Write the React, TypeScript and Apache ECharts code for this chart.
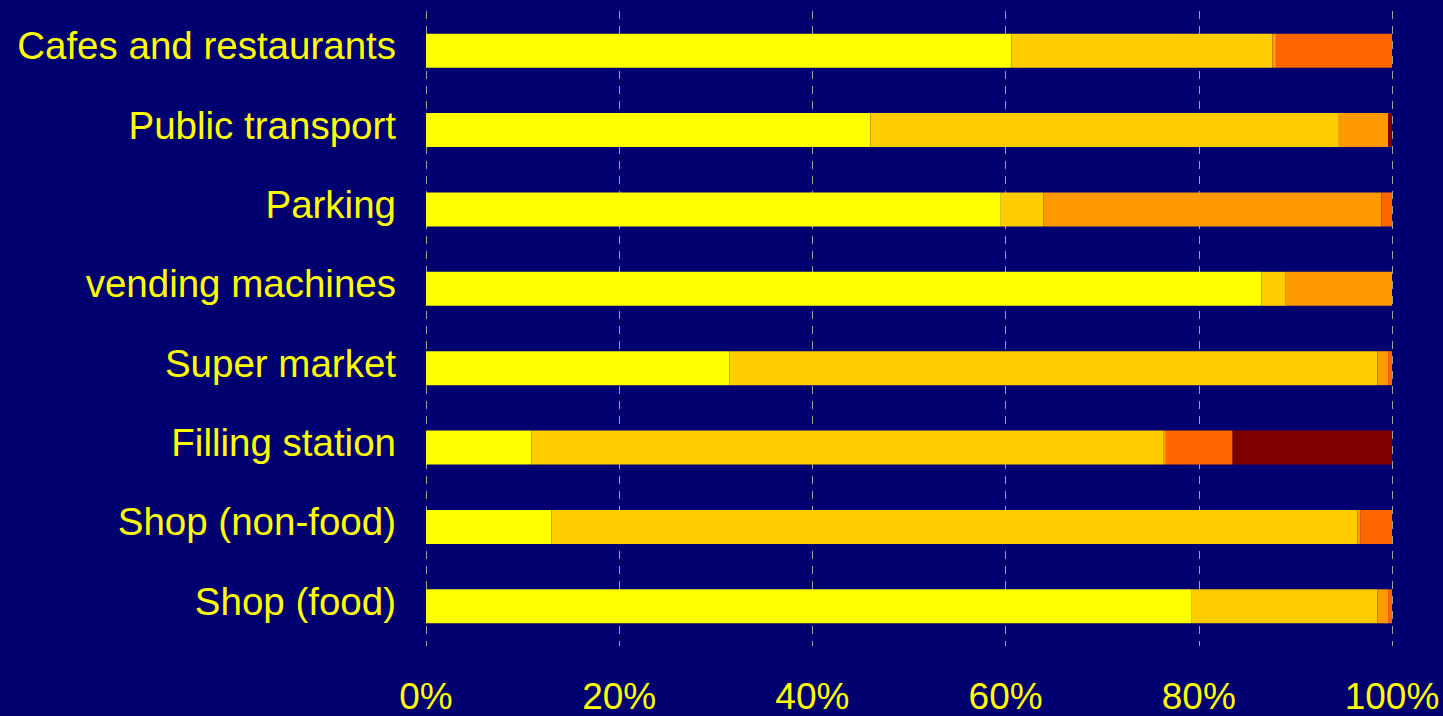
import React, { useEffect, useRef } from "react";
import * as echarts from "echarts";

const categories = [
  "Cafes and restaurants",
  "Public transport",
  "Parking",
  "vending machines",
  "Super market",
  "Filling station",
  "Shop (non-food)",
  "Shop (food)",
];

const seriesColors = ["#FFFF00", "#FFCC00", "#FF9900", "#FF6600", "#800000"];

const s1 = [60.6, 46.0, 59.5, 86.5, 31.4, 10.9, 13.0, 79.2];
const s2 = [27.0, 48.5, 4.4, 2.5, 67.1, 65.4, 83.4, 19.3];
const s3 = [0.4, 5.1, 35.0, 11.0, 1.1, 0.3, 0.3, 1.1];
const s4 = [12.0, 0, 1.1, 0, 0.4, 6.9, 3.3, 0.4];
const s5 = [0, 0.4, 0, 0, 0, 16.5, 0, 0];

const xTicks = [0, 20, 40, 60, 80, 100];

export default function App() {
  const ref = useRef<HTMLDivElement>(null);
  useEffect(() => {
    if (!ref.current) return;
    const chart = echarts.init(ref.current, null, { renderer: "svg" });
    const data = [s1, s2, s3, s4, s5];
    chart.setOption({
      animation: false,
      backgroundColor: "#000070",
      textStyle: { fontFamily: "Liberation Sans, Arial, sans-serif" },
      grid: { left: 426, right: 51, top: 11, bottom: 70, containLabel: false },
      xAxis: {
        type: "value",
        min: xTicks[0],
        max: xTicks[xTicks.length - 1],
        interval: 20,
        axisLine: { show: false },
        axisTick: { show: false },
        splitLine: {
          show: true,
          lineStyle: { color: "#A0A0A0", width: 1, type: [8, 7] },
        },
        axisLabel: {
          color: "#FFFF00",
          fontSize: 37,
          margin: 32,
          formatter: (v: number) => `${v}%`,
          fontFamily: "Liberation Sans, Arial, sans-serif",
        },
      },
      yAxis: {
        type: "category",
        data: categories,
        inverse: true,
        axisLine: { show: false },
        axisTick: { show: false },
        splitLine: { show: false },
        axisLabel: {
          color: "#FFFF00",
          fontSize: 38.5,
          margin: 30,
          verticalAlign: "bottom",
          lineHeight: 10,
          fontFamily: "Liberation Sans, Arial, sans-serif",
        },
      },
      series: data.map((d, i) => ({
        type: "bar",
        stack: "total",
        data: d,
        barWidth: 34,
        itemStyle: { color: seriesColors[i] },
        emphasis: { disabled: true },
      })),
    });
    return () => chart.dispose();
  }, []);
  return (
    <div
      ref={ref}
      style={{ position: "fixed", left: 0, top: 0, width: 1443, height: 716 }}
    />
  );
}
